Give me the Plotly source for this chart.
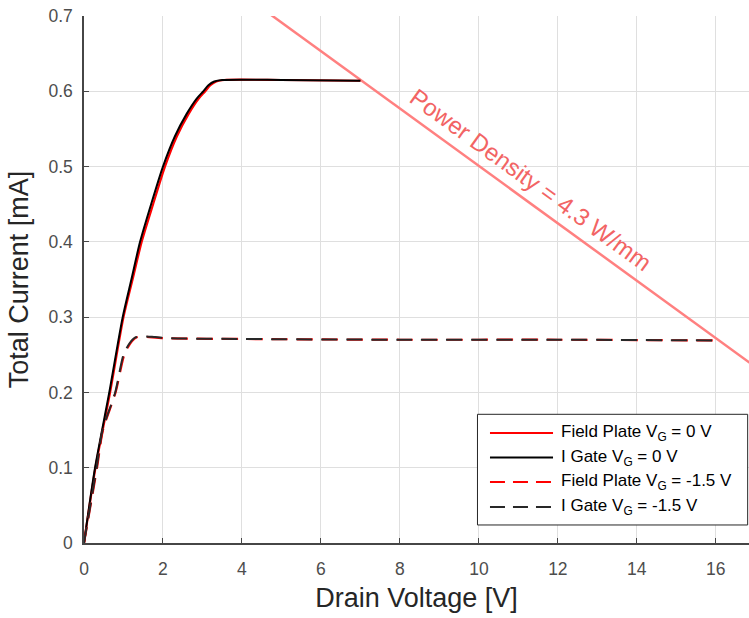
import plotly.graph_objects as go

# Drain voltage [V] / total current [mA]
fp0_v = [0, 0.29, 0.66, 1.0, 1.23, 1.46, 1.75, 2.05, 2.35, 2.65, 2.9, 3.07, 3.2, 3.35, 3.55, 5.0, 7.0]
fp0_i = [0, 0.1, 0.2, 0.3, 0.35, 0.4, 0.45, 0.5, 0.54, 0.57, 0.59, 0.60, 0.608, 0.613, 0.615, 0.615, 0.614]

ig0_v = [0, 0.28, 0.64, 0.98, 1.2, 1.42, 1.7, 2.0, 2.3, 2.6, 2.85, 3.02, 3.15, 3.3, 3.5, 5.0, 7.0]
ig0_i = [0, 0.1, 0.2, 0.3, 0.35, 0.4, 0.45, 0.5, 0.54, 0.57, 0.59, 0.60, 0.608, 0.613, 0.615, 0.615, 0.614]

fp15_v = [0, 0.33, 0.48, 0.8, 1.02, 1.17, 1.32, 1.5, 2.0, 4.0, 8.0, 12.0, 16.0]
fp15_i = [0, 0.1, 0.15, 0.2, 0.25, 0.265, 0.273, 0.274, 0.272, 0.271, 0.270, 0.270, 0.269]

ig15_v = [0, 0.32, 0.47, 0.79, 1.0, 1.15, 1.3, 1.5, 1.8, 2.2, 4.0, 8.0, 12.0, 16.0]
ig15_i = [0, 0.1, 0.15, 0.2, 0.25, 0.265, 0.273, 0.2745, 0.2735, 0.272, 0.271, 0.270, 0.270, 0.269]

# Power density limit line (4.3 W/mm)
pd_v = [4.67, 17.0]
pd_i = [0.704, 0.234]
pd_label = "Power Density = 4.3 W/mm"

series_names = ["Field Plate V<sub>G</sub> = 0 V", "I Gate V<sub>G</sub> = 0 V",
                "Field Plate V<sub>G</sub> = -1.5 V", "I Gate V<sub>G</sub> = -1.5 V"]
series_colors = ["rgb(255,0,0)", "rgb(0,0,0)", "rgb(255,0,0)", "rgb(40,40,40)"]
series_dash = ["solid", "solid", "16px,9px", "16px,9px"]

x_ticks = [0, 2, 4, 6, 8, 10, 12, 14, 16]
y_ticks = [0, 0.1, 0.2, 0.3, 0.4, 0.5, 0.6, 0.7]

font_family = "Arial, Liberation Sans, Helvetica, sans-serif"

fig = go.Figure()

fig.add_trace(go.Scatter(x=pd_v, y=pd_i, mode="lines", showlegend=False,
                         line=dict(color="rgb(255,128,128)", width=2.5)))

series = [(fp0_v, fp0_i), (ig0_v, ig0_i), (fp15_v, fp15_i), (ig15_v, ig15_i)]
widths = [2.2, 2.0, 2.2, 2.0]
for (xv, yv), name, col, dsh, w in zip(series, series_names, series_colors, series_dash, widths):
    fig.add_trace(go.Scatter(x=xv, y=yv, mode="lines", name=name, showlegend=False,
                             line=dict(color=col, width=w, dash=dsh, shape="spline", smoothing=0.7)))

fig.add_annotation(x=11.3, y=0.4825, xref="x", yref="y", text=pd_label,
                   showarrow=False, textangle=36,
                   font=dict(family=font_family, size=24, color="rgb(242,100,100)"))

# Legend box (drawn in paper coordinates)
leg_x0, leg_x1, leg_y0, leg_y1 = 0.5917, 0.998, 0.0342, 0.2442
leg_rows = [0.2087, 0.1622, 0.1157, 0.0683]
samp_x0, samp_x1, text_x = 0.6105, 0.7053, 0.7143

fig.add_shape(type="rect", xref="paper", yref="paper", x0=leg_x0, x1=leg_x1, y0=leg_y0, y1=leg_y1,
              line=dict(color="rgb(38,38,38)", width=1), fillcolor="white", layer="above")
legend_dash = ["solid", "solid", "15px,8px", "15px,8px"]
for ry, name, col, dsh in zip(leg_rows, series_names, series_colors, legend_dash):
    fig.add_shape(type="line", xref="paper", yref="paper", x0=samp_x0, x1=samp_x1, y0=ry, y1=ry,
                  line=dict(color=col, width=2, dash=dsh), layer="above")
    fig.add_annotation(x=text_x, y=ry, xref="paper", yref="paper", text=name, showarrow=False,
                       xanchor="left", yanchor="middle",
                       font=dict(family=font_family, size=17, color="rgb(0,0,0)"))

axis_common = dict(
    showgrid=True, gridcolor="rgb(223,223,223)", gridwidth=1,
    showline=True, linecolor="rgb(70,70,70)", linewidth=1.5,
    ticks="inside", ticklen=5, tickcolor="rgb(70,70,70)", tickwidth=1.2,
    zeroline=False, mirror=False,
    tickfont=dict(family=font_family, size=17.5, color="rgb(77,77,77)"),
)

fig.update_xaxes(range=[0, 16.84], tickvals=x_ticks, ticklabelstandoff=9,
                 title=dict(text="Drain Voltage [V]", standoff=10,
                            font=dict(family=font_family, size=27, color="rgb(38,38,38)")),
                 **axis_common)
fig.update_yaxes(range=[0, 0.7], tickvals=y_ticks, ticklabelstandoff=6,
                 title=dict(text="Total Current [mA]", standoff=12,
                            font=dict(family=font_family, size=27, color="rgb(38,38,38)")),
                 **axis_common)

fig.update_layout(
    width=749, height=618,
    margin=dict(l=84, r=0, t=16, b=75),
    plot_bgcolor="white", paper_bgcolor="white",
    font=dict(family=font_family),
    showlegend=False,
)

fig.write_html("out.html")
